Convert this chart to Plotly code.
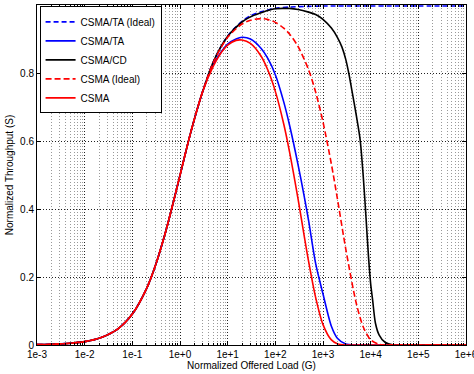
import plotly.graph_objects as go

# Shared rising part (all protocols coincide at low load)
g_rise = [0.001, 0.002, 0.005, 0.01, 0.02, 0.05, 0.1, 0.2, 0.3, 0.5, 0.7, 1, 1.5, 2, 3]
s_rise = [0.001, 0.002, 0.005, 0.0099, 0.0196, 0.0476, 0.0909, 0.1667, 0.2308, 0.3333,
          0.4118, 0.499, 0.599, 0.664, 0.746]

# CSMA/TA (Ideal)
g_ta_ideal = [5, 10, 20, 30, 50, 100, 200, 500, 1000, 10000, 100000, 1000000]
s_ta_ideal = [0.833, 0.909, 0.952, 0.968, 0.980, 0.990, 0.994, 0.996, 0.997, 0.997, 0.997, 0.997]

# CSMA/TA
g_ta = [5, 7, 10, 15, 20, 30, 50, 70, 100, 150, 200, 300, 400, 500, 700, 1000, 1500, 2000,
        3000, 5000, 10000, 100000, 1000000]
s_ta = [0.825, 0.858, 0.885, 0.900, 0.905, 0.900, 0.873, 0.842, 0.795, 0.715, 0.645, 0.53,
        0.44, 0.365, 0.24, 0.15, 0.055, 0.02, 0.003, 0, 0, 0, 0]

# CSMA/CD
g_cd = [5, 10, 20, 30, 50, 70, 100, 150, 200, 300, 500, 700, 1000, 1500, 2000, 2500, 3000,
        3500, 4000, 5000, 6000, 7000, 8000, 9000, 10000, 11000, 12600, 15000, 20000, 30000,
        100000, 1000000]
s_cd = [0.833, 0.908, 0.950, 0.965, 0.977, 0.984, 0.989, 0.990, 0.990, 0.987, 0.979, 0.972,
        0.958, 0.932, 0.905, 0.876, 0.84, 0.797, 0.752, 0.675, 0.605, 0.495, 0.373, 0.26,
        0.18, 0.132, 0.064, 0.03, 0.008, 0, 0, 0]

# CSMA (Ideal)
g_csma_ideal = [5, 10, 20, 30, 50, 70, 100, 150, 200, 300, 500, 700, 1000, 1500, 2000, 3000,
                5000, 7000, 10000, 15000, 20000, 100000, 1000000]
s_csma_ideal = [0.831, 0.905, 0.944, 0.955, 0.960, 0.957, 0.949, 0.932, 0.914, 0.878, 0.809,
                0.744, 0.656, 0.532, 0.431, 0.283, 0.122, 0.053, 0.015, 0.002, 0, 0, 0]

# CSMA
g_csma = [5, 7, 10, 15, 20, 30, 50, 70, 100, 150, 200, 300, 400, 500, 700, 1000, 1500, 2000,
          3000, 5000, 10000, 100000, 1000000]
s_csma = [0.820, 0.856, 0.882, 0.896, 0.897, 0.887, 0.850, 0.808, 0.746, 0.650, 0.566, 0.429,
          0.324, 0.245, 0.140, 0.060, 0.015, 0.004, 0, 0, 0, 0, 0]

x_tickvals = [1e-3, 1e-2, 1e-1, 1e0, 1e1, 1e2, 1e3, 1e4, 1e5, 1e6]
x_ticktext = ["1e-3", "1e-2", "1e-1", "1e+0", "1e+1", "1e+2", "1e+3", "1e+4", "1e+5", "1e+6"]
y_tickvals = [0, 0.2, 0.4, 0.6, 0.8, 1]
y_ticktext = ["0", "0.2", "0.4", "0.6", "0.8", "1"]

series = [
    ("CSMA/TA (Ideal)", g_ta_ideal, s_ta_ideal, "#0000ff", "5px,3px"),
    ("CSMA/TA", g_ta, s_ta, "#0000ff", "solid"),
    ("CSMA/CD", g_cd, s_cd, "#000000", "solid"),
    ("CSMA (Ideal)", g_csma_ideal, s_csma_ideal, "#ff0000", "6px,3px"),
    ("CSMA", g_csma, s_csma, "#ff0000", "solid"),
]

FONT = "Liberation Sans, Arial, Helvetica, sans-serif"

fig = go.Figure()
for name, gx, sy, color, dash in series:
    fig.add_trace(go.Scatter(
        x=g_rise + gx, y=s_rise + sy, mode="lines", name=name,
        line=dict(color=color, width=1.6, dash=dash, shape="spline", smoothing=0.8),
    ))

fig.update_layout(
    width=474, height=374,
    margin=dict(l=37, r=8, t=5, b=29, autoexpand=False),
    paper_bgcolor="white", plot_bgcolor="white",
    font=dict(family=FONT, size=10, color="#000"),
    showlegend=True,
    legend=dict(x=0.006, y=0.996, xanchor="left", yanchor="top",
                bgcolor="white", bordercolor="#000", borderwidth=1,
                font=dict(size=10, family=FONT), itemwidth=30,
                tracegroupgap=0),
)

fig.update_xaxes(
    type="log", range=[-3, 6],
    tickvals=x_tickvals, ticktext=x_ticktext, ticklabeloverflow="allow",
    showline=True, linecolor="#000", linewidth=1, mirror="ticks",
    ticks="inside", ticklen=4, tickcolor="#000",
    showgrid=True, gridcolor="#222", griddash="1px,2px", gridwidth=1,
    minor=dict(showgrid=True, gridcolor="#999", griddash="1px,2px", gridwidth=1,
               ticks="inside", ticklen=2, tickcolor="#000",
               tickvals=[m * 10 ** e for e in range(-3, 6) for m in range(2, 10)]),
    zeroline=False, automargin=False,
    title=dict(text="Normalized Offered Load (G)", font=dict(size=10), standoff=2),
    tickfont=dict(size=10),
)
fig.update_yaxes(
    range=[0, 1],
    tickvals=y_tickvals, ticktext=y_ticktext,
    showline=True, linecolor="#000", linewidth=1, mirror="ticks",
    ticks="inside", ticklen=4, tickcolor="#000",
    showgrid=True, gridcolor="#222", griddash="1px,2px", gridwidth=1,
    zeroline=False, automargin=False,
    title=dict(text="Normalized Throughput (S)", font=dict(size=10), standoff=4),
    tickfont=dict(size=10),
)

fig.write_html("out.html")
